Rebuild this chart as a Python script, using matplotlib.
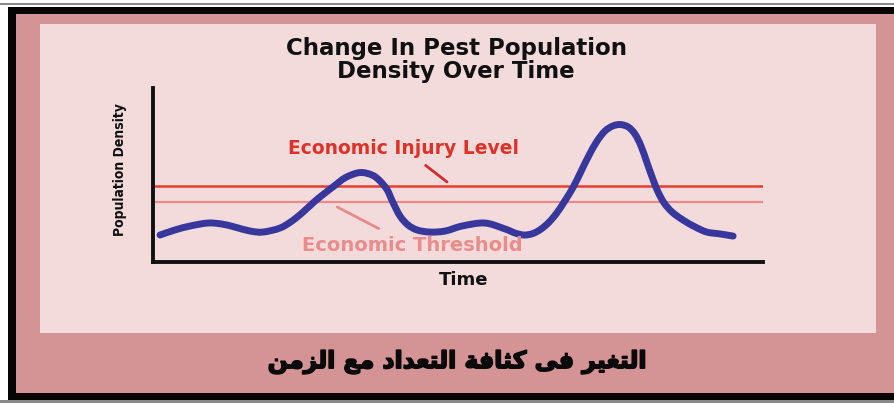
"""Pest population density over time, with the economic threshold and injury level."""
import matplotlib

matplotlib.use("Agg")
import matplotlib.pyplot as plt  # noqa: E402
import matplotlib.patheffects as pe  # noqa: E402
from matplotlib.patches import PathPatch, Rectangle  # noqa: E402
from matplotlib.path import Path  # noqa: E402

W, H = 894, 405

# blue curve: time (0-100) vs population density (0-100)
time = [1.15, 3.6, 6.1, 9.0, 11.3, 13.4, 15.9, 18.0, 20.8, 22.8, 24.6, 26.4, 28.0, 29.7,
        31.6, 33.9, 35.9, 37.2, 38.4, 39.3, 40.5, 41.8, 43.3, 45.4, 47.9, 50.7, 54.4,
        57.7, 59.4, 60.9, 62.3, 63.6, 64.9, 66.2, 67.4, 68.9, 70.2, 71.5, 72.8, 74.1,
        75.4, 76.6, 77.9, 79.0, 80.0, 81.0, 82.0, 82.8, 83.8, 85.1, 86.9, 88.9, 90.8,
        93.0, 95.1]
density = [15.5, 18.4, 20.7, 22.4, 21.8, 20.1, 17.8, 17.2, 19.5, 23.6, 28.7, 34.5, 39.1,
           43.7, 48.6, 51.4, 50.0, 46.6, 41.4, 34.5, 26.4, 21.3, 18.4, 17.2, 17.8, 20.7,
           22.4, 19.0, 16.6, 15.5, 16.4, 18.9, 22.8, 28.2, 34.5, 43.1, 52.3, 61.5, 69.5,
           75.3, 78.2, 79.0, 77.6, 73.6, 66.7, 56.9, 47.1, 40.2, 33.9, 28.7, 24.1, 20.1,
           17.2, 16.1, 14.9]

injury_level = 43.7
threshold = 34.5

title = "Change In Pest Population\nDensity Over Time"
caption = "التغير فى كثافة التعداد مع الزمن"

# contextual forms (isolated, final, initial, medial); two-form letters join only to the right
FORMS = {
    "ا": (0xFE8D, 0xFE8E), "ر": (0xFEAD, 0xFEAE), "ى": (0xFEEF, 0xFEF0),
    "ة": (0xFE93, 0xFE94), "د": (0xFEA9, 0xFEAA), "ز": (0xFEAF, 0xFEB0),
    "ل": (0xFEDD, 0xFEDE, 0xFEDF, 0xFEE0), "ت": (0xFE95, 0xFE96, 0xFE97, 0xFE98),
    "غ": (0xFECD, 0xFECE, 0xFECF, 0xFED0), "ي": (0xFEF1, 0xFEF2, 0xFEF3, 0xFEF4),
    "ف": (0xFED1, 0xFED2, 0xFED3, 0xFED4), "ك": (0xFED9, 0xFEDA, 0xFEDB, 0xFEDC),
    "ث": (0xFE99, 0xFE9A, 0xFE9B, 0xFE9C), "ع": (0xFEC9, 0xFECA, 0xFECB, 0xFECC),
    "م": (0xFEE1, 0xFEE2, 0xFEE3, 0xFEE4), "ن": (0xFEE5, 0xFEE6, 0xFEE7, 0xFEE8),
}


def shape_arabic(s):
    out = []
    for i, ch in enumerate(s):
        f = FORMS.get(ch)
        if f is None:
            out.append(ch)
            continue
        prev = s[i - 1] if i > 0 else ""
        nxt = s[i + 1] if i + 1 < len(s) else ""
        join_prev = prev in FORMS and len(FORMS[prev]) == 4
        join_next = len(f) == 4 and nxt in FORMS
        if join_prev and join_next:
            out.append(chr(f[3]))
        elif join_prev:
            out.append(chr(f[1]))
        elif join_next:
            out.append(chr(f[2]))
        else:
            out.append(chr(f[0]))
    return "".join(out)[::-1]


def smooth_path(xs, ys):
    """Cubic Bezier path through every point (Catmull-Rom handles)."""
    pts = list(zip(xs, ys))
    verts, codes = [pts[0]], [Path.MOVETO]
    n = len(pts)
    for i in range(n - 1):
        p0 = pts[max(i - 1, 0)]
        p1, p2 = pts[i], pts[i + 1]
        p3 = pts[min(i + 2, n - 1)]
        c1 = (p1[0] + (p2[0] - p0[0]) / 6, p1[1] + (p2[1] - p0[1]) / 6)
        c2 = (p2[0] - (p3[0] - p1[0]) / 6, p2[1] - (p3[1] - p1[1]) / 6)
        verts += [c1, c2, p2]
        codes += [Path.CURVE4] * 3
    return Path(verts, codes)


def px_rect(fig, x0, y0, x1, y1, color):
    fig.patches.append(Rectangle((x0 / W, 1 - y1 / H), (x1 - x0) / W, (y1 - y0) / H,
                                 transform=fig.transFigure, facecolor=color,
                                 edgecolor="none", zorder=-10))


fig = plt.figure(figsize=(W / 100, H / 100), dpi=100, facecolor="white")
px_rect(fig, 0, 3, W, 5, "#8a8a8a")
px_rect(fig, 0, 400, W, 403, "#8a8a8a")
px_rect(fig, 8, 7, W, 400, "#050505")
px_rect(fig, 16, 14, W, 393, "#d49395")
px_rect(fig, 40, 24, 876, 333, "#f3dbdb")

ax = fig.add_axes([153 / W, 1 - 262 / H, 610 / W, 174 / H])
ax.set_facecolor("none")
ax.set_xlim(0, 100)
ax.set_ylim(0, 100)
for side in ("top", "right"):
    ax.spines[side].set_visible(False)
for side in ("left", "bottom"):
    ax.spines[side].set_linewidth(2.8)
    ax.spines[side].set_color("#111111")
ax.set_xticks([])
ax.set_yticks([])

ax.plot([0, 99.8], [injury_level] * 2, color="#e4402c", lw=1.8, zorder=2)
ax.plot([0, 99.8], [threshold] * 2, color="#e8898a", lw=1.6, zorder=2)
ax.add_patch(PathPatch(smooth_path(time, density), facecolor="none", edgecolor="#38389c",
                       lw=5, joinstyle="round", capstyle="round", zorder=3))

ax.annotate("Economic Injury Level", xy=(48.2, 46.0), xytext=(41.0, 65.5),
            ha="center", va="center", fontsize=13.5, fontweight="bold", color="#dc3228",
            arrowprops=dict(arrowstyle="-", color="#d0302a", lw=2,
                            shrinkA=6, shrinkB=0))
ax.annotate("Economic Threshold", xy=(30.2, 31.6), xytext=(42.5, 9.2),
            ha="center", va="center", fontsize=14, fontweight="bold", color="#e88c8c",
            arrowprops=dict(arrowstyle="-", color="#e88a8a", lw=2,
                            shrinkA=8, shrinkB=0))

fig.text(456 / W, 1 - 60 / H, title, ha="center", va="center", fontsize=16.5,
         fontweight="bold", linespacing=1.05, color="#111111")
fig.text(464 / W, 1 - 280 / H, "Time", ha="center", va="center", fontsize=13,
         fontweight="bold", color="#111111")
fig.text(120 / W, 1 - 170 / H, "Population Density", ha="center", va="center",
         rotation=90, fontsize=10, fontweight="bold", fontstretch="condensed",
         color="#111111")
fig.text(457 / W, 1 - 362 / H, shape_arabic(caption), ha="center", va="center",
         fontsize=17, fontweight="bold", family="DejaVu Sans", color="#0a0a0a",
         path_effects=[pe.withStroke(linewidth=1.2, foreground="#0a0a0a")])

fig.savefig("out.png", dpi=100, facecolor="white")
